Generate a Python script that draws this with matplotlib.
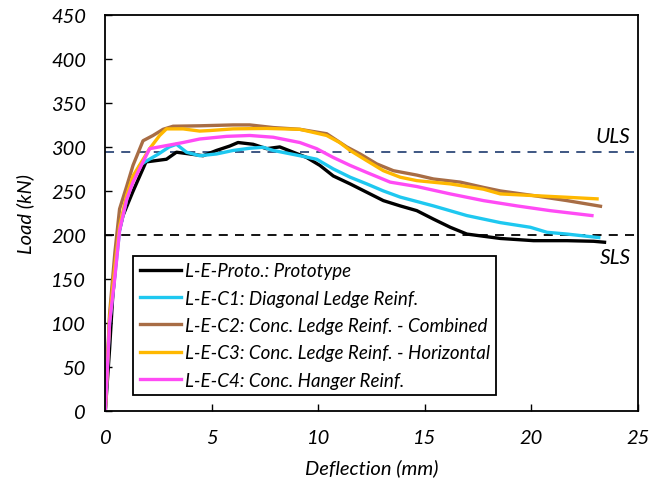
import matplotlib
matplotlib.use("Agg")
import matplotlib.pyplot as plt

plt.rcParams['font.family'] = ['Lato', 'DejaVu Sans']
plt.rcParams['font.style'] = 'italic'

# Load-deflection curves (deflection in mm, load in kN)
proto_x = [0, 0.2, 0.34, 0.6, 0.83, 1.29, 1.91, 2.24, 2.87, 3.34, 3.96, 4.59, 5.22, 5.84, 6.23, 6.94,
           7.57, 8.19, 8.82, 9.45, 10.07, 10.7, 11.49, 12.27, 13.05, 13.84, 14.62, 15.4, 16.19,
           16.97, 17.75, 18.54, 20.1, 21.67, 22.92, 23.43]
proto_y = [0, 70, 127, 199, 222, 249, 283, 284, 286, 294, 292, 290, 296, 301, 305, 303,
           298, 300, 294, 288, 279, 267, 258, 248.5, 239, 233, 227.6, 218, 208.7,
           201, 198.5, 196, 193.5, 193.5, 192.8, 191.7]

c1_x = [0, 0.2, 0.44, 0.67, 1.0, 1.3, 1.61, 1.93, 2.5, 3.0, 3.34, 3.81, 4.43, 5.22, 6.0, 6.78, 7.41,
        7.88, 9.13, 9.92, 10.7, 11.49, 12.27, 13.05, 13.84, 15.4, 16.97, 18.54, 19.95,
        20.73, 21.67, 23.16]
c1_y = [0, 100, 152, 205, 240, 262, 279, 284, 292, 300, 303, 294, 290, 292, 296, 298.5, 299.6,
        296, 290, 286, 275, 265.6, 258, 250, 243, 233, 222, 214, 208.7,
        203, 201, 197]

c2_x = [0, 0.2, 0.45, 0.67, 1.0, 1.3, 1.77, 2.24, 2.71, 3.18, 4.43, 6.0, 6.78, 7.88, 9.13, 10.39,
        11.33, 11.96, 12.74, 13.52, 14.62, 15.4, 16.66, 17.75, 18.54, 20.1, 21.67, 23.24]
c2_y = [0, 110, 180, 229.5, 255, 279, 307, 313, 320, 323.5, 324, 325, 325, 322, 320, 315,
        300, 292, 280.7, 273, 268, 263.6, 260, 254, 250, 244.7, 239, 232.6]

c3_x = [0, 0.2, 0.45, 0.67, 1.0, 1.3, 2.08, 2.55, 2.87, 3.65, 4.43, 4.9, 6.0, 7.57, 9.13, 10.39,
        11.0, 11.49, 12.27, 13.05, 13.84, 14.62, 16.19, 17.75, 18.54, 20.1, 21.67, 23.08]
c3_y = [0, 105, 165, 210, 245, 267, 298, 313, 320.5, 320.5, 318, 318.6, 320.5, 321, 320, 313,
        305, 296, 284.4, 273, 265.6, 261.7, 258, 252, 246.6, 244.7, 242.8, 241]

c4_x = [0, 0.2, 0.44, 0.67, 1.0, 1.3, 2.08, 2.87, 3.65, 4.43, 5.69, 6.78, 7.88, 9.13, 9.92, 10.7,
        11.49, 12.27, 13.37, 14.62, 16.19, 17.75, 19.32, 20.88, 22.84]
c4_y = [0, 100, 150, 205, 240, 260, 298, 301.5, 305, 309, 312, 313, 311, 305, 298, 288,
        279, 271, 260, 255, 246.6, 239, 233, 227.6, 222]

uls_load = 294
sls_load = 200

labels = ["L-E-Proto.: Prototype",
          "L-E-C1: Diagonal Ledge Reinf.",
          "L-E-C2: Conc. Ledge Reinf. - Combined",
          "L-E-C3: Conc. Ledge Reinf. - Horizontal",
          "L-E-C4: Conc. Hanger Reinf."]
colors = ["#000000", "#1EC8F0", "#A86D45", "#FFB800", "#FF4BF5"]

xticks = [0, 5, 10, 15, 20, 25]
yticks = [0, 50, 100, 150, 200, 250, 300, 350, 400, 450]

fig = plt.figure(figsize=(6.52, 4.89), dpi=100)
ax = fig.add_axes([0.1615, 0.1575, 0.817, 0.81])

series = [(proto_x, proto_y), (c1_x, c1_y), (c2_x, c2_y), (c3_x, c3_y), (c4_x, c4_y)]
for (xs, ys), lab, col in zip(series, labels, colors):
    ax.plot(xs, ys, color=col, lw=2.4, label=lab, solid_joinstyle='round')

ax.axhline(uls_load, color="#2F4A7A", lw=1.3, ls=(0, (5, 4)), zorder=0.5)
ax.axhline(sls_load, color="#000000", lw=1.3, ls=(0, (5, 4)), zorder=0.5)
ax.text(24.65, uls_load + 7, "ULS", ha='right', va='bottom', fontsize=15)
ax.text(24.65, sls_load - 14, "SLS", ha='right', va='top', fontsize=15)

ax.set_xlim(0, 25)
ax.set_ylim(0, 450)
ax.set_xticks(xticks)
ax.set_yticks(yticks)
ax.tick_params(direction='in', length=5, width=1, labelsize=14.5)
ax.tick_params(axis='y', pad=14)
ax.tick_params(axis='x', pad=13)
for s in ax.spines.values():
    s.set_linewidth(1.3)

ax.set_xlabel("Deflection (mm)", fontsize=14.5, labelpad=9)
ax.set_ylabel("Load (kN)", fontsize=14.5, labelpad=12)

leg = ax.legend(loc='lower left', bbox_to_anchor=(0.052, 0.04), fontsize=13.5,
                frameon=True, fancybox=False, edgecolor='black', framealpha=1,
                handlelength=2.2, handletextpad=0.2, labelspacing=0.55, borderpad=0.35,
                borderaxespad=0)
leg.get_frame().set_linewidth(1.3)

fig.savefig("out.png", dpi=100)
